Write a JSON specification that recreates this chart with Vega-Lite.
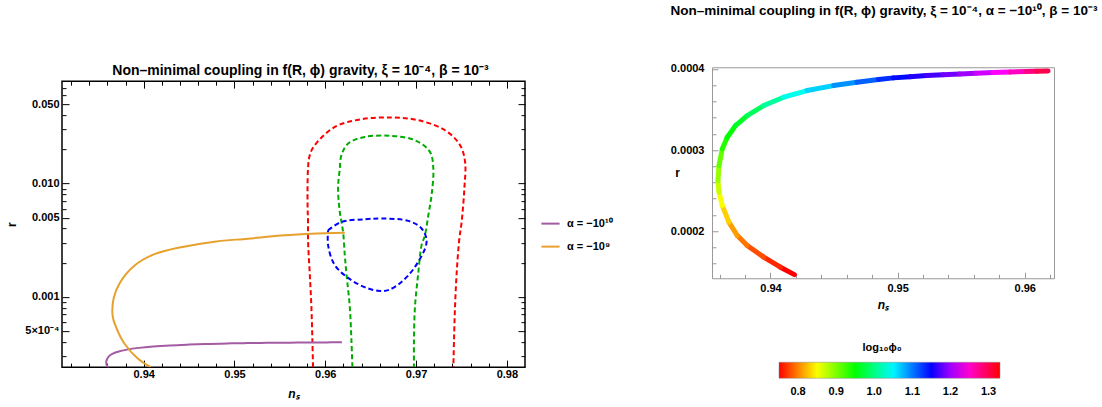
{
  "$schema": "https://vega.github.io/schema/vega-lite/v6.json",
  "background": "white",
  "padding": {"left": 5, "top": 3, "right": 5, "bottom": 3},
  "title": {"text": "Non–minimal coupling in f(R, ϕ) gravity,  ξ = 10⁻⁴, α = −10¹⁰, β = 10⁻³", "anchor": "end", "dx": 43, "offset": 45, "fontSize": 13.5},
  "config": {
    "font": "Liberation Sans",
    "title": {"font": "Liberation Sans", "fontSize": 14, "fontWeight": "bold", "color": "#000000"},
    "axis": {"grid": false, "domain": false, "labelFont": "Liberation Sans", "labelFontSize": 11, "labelFontWeight": "bold", "labelColor": "#000000", "titleFont": "Liberation Sans", "titleFontSize": 12, "titleFontWeight": "bold", "titleColor": "#000000", "tickColor": "#000000", "labelOverlap": false, "labelFlush": false, "labelBound": false},
    "legend": {"labelFont": "Liberation Sans", "labelFontSize": 11, "labelFontWeight": "bold", "labelColor": "#000000", "titleFont": "Liberation Sans", "titleFontSize": 11, "titleFontWeight": "bold", "titleColor": "#000000"}
  },
  "datasets": {
    "red": [
      {"i": 0, "ns": 0.95865, "r": 0.00024},
      {"i": 1, "ns": 0.95858, "r": 0.000415},
      {"i": 2, "ns": 0.95847, "r": 0.000816},
      {"i": 3, "ns": 0.95829, "r": 0.001607},
      {"i": 4, "ns": 0.9581, "r": 0.00316},
      {"i": 5, "ns": 0.9581, "r": 0.00458},
      {"i": 6, "ns": 0.95805, "r": 0.00644},
      {"i": 7, "ns": 0.9581, "r": 0.01355},
      {"i": 8, "ns": 0.95829, "r": 0.01778},
      {"i": 9, "ns": 0.95884, "r": 0.02178},
      {"i": 10, "ns": 0.96105, "r": 0.03155},
      {"i": 11, "ns": 0.96398, "r": 0.03689},
      {"i": 12, "ns": 0.9673, "r": 0.03821},
      {"i": 13, "ns": 0.97024, "r": 0.03614},
      {"i": 14, "ns": 0.97319, "r": 0.02951},
      {"i": 15, "ns": 0.97485, "r": 0.02178},
      {"i": 16, "ns": 0.9754, "r": 0.01549},
      {"i": 17, "ns": 0.97532, "r": 0.00903},
      {"i": 18, "ns": 0.97502, "r": 0.00458},
      {"i": 19, "ns": 0.97475, "r": 0.00316},
      {"i": 20, "ns": 0.97447, "r": 0.001607},
      {"i": 21, "ns": 0.97429, "r": 0.000816},
      {"i": 22, "ns": 0.97418, "r": 0.000415},
      {"i": 23, "ns": 0.97411, "r": 0.00024}
    ],
    "green": [
      {"i": 0, "ns": 0.96299, "r": 0.00024},
      {"i": 1, "ns": 0.96288, "r": 0.000415},
      {"i": 2, "ns": 0.9627, "r": 0.000816},
      {"i": 3, "ns": 0.96233, "r": 0.001607},
      {"i": 4, "ns": 0.96215, "r": 0.002333},
      {"i": 5, "ns": 0.96196, "r": 0.00374},
      {"i": 6, "ns": 0.9616, "r": 0.00562},
      {"i": 7, "ns": 0.96141, "r": 0.00903},
      {"i": 8, "ns": 0.9616, "r": 0.01355},
      {"i": 9, "ns": 0.96178, "r": 0.01778},
      {"i": 10, "ns": 0.96252, "r": 0.02254},
      {"i": 11, "ns": 0.96436, "r": 0.02576},
      {"i": 12, "ns": 0.9673, "r": 0.0263},
      {"i": 13, "ns": 0.96988, "r": 0.02408},
      {"i": 14, "ns": 0.97153, "r": 0.01901},
      {"i": 15, "ns": 0.9719, "r": 0.01355},
      {"i": 16, "ns": 0.97171, "r": 0.00788},
      {"i": 17, "ns": 0.97135, "r": 0.00525},
      {"i": 18, "ns": 0.97098, "r": 0.0035},
      {"i": 19, "ns": 0.97061, "r": 0.00286},
      {"i": 20, "ns": 0.97024, "r": 0.001607},
      {"i": 21, "ns": 0.96988, "r": 0.000816},
      {"i": 22, "ns": 0.96977, "r": 0.000415},
      {"i": 23, "ns": 0.96977, "r": 0.00024}
    ],
    "blue": [
      {"i": 0, "ns": 0.96031, "r": 0.00387},
      {"i": 1, "ns": 0.96178, "r": 0.00458},
      {"i": 2, "ns": 0.96436, "r": 0.00484},
      {"i": 3, "ns": 0.96619, "r": 0.00491},
      {"i": 4, "ns": 0.96914, "r": 0.00468},
      {"i": 5, "ns": 0.97061, "r": 0.00401},
      {"i": 6, "ns": 0.97116, "r": 0.00305},
      {"i": 7, "ns": 0.96988, "r": 0.00184},
      {"i": 8, "ns": 0.9684, "r": 0.001355},
      {"i": 9, "ns": 0.96693, "r": 0.001146},
      {"i": 10, "ns": 0.96602, "r": 0.001129},
      {"i": 11, "ns": 0.96472, "r": 0.001186},
      {"i": 12, "ns": 0.96288, "r": 0.001403},
      {"i": 13, "ns": 0.96105, "r": 0.001905},
      {"i": 14, "ns": 0.96031, "r": 0.00286},
      {"i": 15, "ns": 0.96031, "r": 0.00387}
    ],
    "a9": [
      {"i": 0, "ns": 0.94077, "r": 0.00024},
      {"i": 1, "ns": 0.93934, "r": 0.0002865},
      {"i": 2, "ns": 0.93787, "r": 0.000388},
      {"i": 3, "ns": 0.93694, "r": 0.000543},
      {"i": 4, "ns": 0.93658, "r": 0.000676},
      {"i": 5, "ns": 0.93669, "r": 0.000974},
      {"i": 6, "ns": 0.93735, "r": 0.001321},
      {"i": 7, "ns": 0.9389, "r": 0.001866},
      {"i": 8, "ns": 0.94118, "r": 0.002379},
      {"i": 9, "ns": 0.94412, "r": 0.002742},
      {"i": 10, "ns": 0.9478, "r": 0.00307},
      {"i": 11, "ns": 0.95148, "r": 0.00326},
      {"i": 12, "ns": 0.95515, "r": 0.00347},
      {"i": 13, "ns": 0.95847, "r": 0.00361},
      {"i": 14, "ns": 0.96215, "r": 0.00368}
    ],
    "a10": [
      {"ns": 0.94188, "r": 0.0001465, "phi": 0.75},
      {"ns": 0.94078, "r": 0.0001556, "phi": 0.765},
      {"ns": 0.93947, "r": 0.000168, "phi": 0.78},
      {"ns": 0.93817, "r": 0.0001823, "phi": 0.795},
      {"ns": 0.93739, "r": 0.0001946, "phi": 0.81},
      {"ns": 0.93673, "r": 0.0002111, "phi": 0.83},
      {"ns": 0.93621, "r": 0.0002315, "phi": 0.85},
      {"ns": 0.93595, "r": 0.0002481, "phi": 0.87},
      {"ns": 0.93587, "r": 0.0002624, "phi": 0.89},
      {"ns": 0.93595, "r": 0.0002808, "phi": 0.91},
      {"ns": 0.93621, "r": 0.0003014, "phi": 0.935},
      {"ns": 0.9366, "r": 0.0003158, "phi": 0.95},
      {"ns": 0.93725, "r": 0.0003301, "phi": 0.965},
      {"ns": 0.93817, "r": 0.0003425, "phi": 0.985},
      {"ns": 0.93947, "r": 0.0003548, "phi": 1.01},
      {"ns": 0.94104, "r": 0.0003651, "phi": 1.04},
      {"ns": 0.94288, "r": 0.0003733, "phi": 1.065},
      {"ns": 0.94496, "r": 0.0003794, "phi": 1.09},
      {"ns": 0.9468, "r": 0.0003836, "phi": 1.11},
      {"ns": 0.94849, "r": 0.0003868, "phi": 1.13},
      {"ns": 0.94967, "r": 0.0003889, "phi": 1.145},
      {"ns": 0.95098, "r": 0.0003904, "phi": 1.158},
      {"ns": 0.95229, "r": 0.0003917, "phi": 1.17},
      {"ns": 0.95357, "r": 0.0003929, "phi": 1.185},
      {"ns": 0.9549, "r": 0.0003938, "phi": 1.2},
      {"ns": 0.95616, "r": 0.0003947, "phi": 1.215},
      {"ns": 0.95751, "r": 0.0003954, "phi": 1.232},
      {"ns": 0.95882, "r": 0.0003961, "phi": 1.255},
      {"ns": 0.96013, "r": 0.0003967, "phi": 1.28},
      {"ns": 0.96094, "r": 0.0003972, "phi": 1.3},
      {"ns": 0.96183, "r": 0.0003975, "phi": 1.325}
    ]
  },
  "center": true,
  "spacing": 55,
  "resolve": {"scale": {"color": "independent"}, "legend": {"color": "independent"}},
  "hconcat": [
    {
      "width": 463,
      "height": 286,
      "view": {"stroke": "#000000", "strokeWidth": 1.5},
      "resolve": {"axis": {"x": "independent", "y": "independent"}},
      "layer": [
        {
          "data": {"name": "red"},
          "mark": {"type": "line", "color": "#ff0000", "strokeWidth": 2, "strokeDash": [5, 3], "interpolate": "catmull-rom", "clip": true},
          "encoding": {
            "x": {"field": "ns", "type": "quantitative", "scale": {"domain": [0.931, 0.982], "nice": false, "zero": false},
              "axis": {"orient": "bottom", "title": "nₛ", "titleFontStyle": "italic", "titlePadding": 6,
                "values": [0.932, 0.934, 0.936, 0.938, 0.94, 0.942, 0.944, 0.946, 0.948, 0.95, 0.952, 0.954, 0.956, 0.958, 0.96, 0.962, 0.964, 0.966, 0.968, 0.97, 0.972, 0.974, 0.976, 0.978, 0.98],
                "labelExpr": "abs(datum.value*100 - round(datum.value*100)) < 1e-6 ? format(datum.value, '.2f') : ''",
                "tickSize": {"condition": {"test": "abs(datum.value*100 - round(datum.value*100)) < 1e-6", "value": -7}, "value": -4},
                "labelPadding": 8}},
            "y": {"field": "r", "type": "quantitative", "scale": {"type": "log", "domain": [0.00024, 0.08], "nice": false},
              "axis": {"orient": "left", "title": "r", "titlePadding": 6,
                "values": [0.0003, 0.0004, 0.0005, 0.0006, 0.0007, 0.0008, 0.0009, 0.001, 0.002, 0.003, 0.004, 0.005, 0.006, 0.007, 0.008, 0.009, 0.01, 0.02, 0.03, 0.04, 0.05, 0.06, 0.07],
                "labelExpr": "datum.value == 0.05 ? '0.050' : datum.value == 0.01 ? '0.010' : datum.value == 0.005 ? '0.005' : datum.value == 0.001 ? '0.001' : datum.value == 0.0005 ? '5×10⁻⁴' : ''",
                "tickSize": {"condition": {"test": "indexof([0.0005, 0.001, 0.005, 0.01, 0.05], datum.value) >= 0", "value": -7}, "value": -4},
                "labelPadding": 10}},
            "order": {"field": "i", "type": "quantitative"}
          }
        },
        {
          "data": {"name": "green"},
          "mark": {"type": "line", "color": "#00aa00", "strokeWidth": 2, "strokeDash": [5, 3], "interpolate": "catmull-rom", "clip": true},
          "encoding": {
            "x": {"field": "ns", "type": "quantitative",
              "axis": {"orient": "top", "labels": false,
                "title": "Non–minimal coupling in f(R, ϕ) gravity, ξ = 10⁻⁴, β = 10⁻³",
                "titleFontSize": 14, "titleX": 238, "titleY": -11, "titleAlign": "center", "titleBaseline": "middle",
                "values": [0.932, 0.934, 0.936, 0.938, 0.94, 0.942, 0.944, 0.946, 0.948, 0.95, 0.952, 0.954, 0.956, 0.958, 0.96, 0.962, 0.964, 0.966, 0.968, 0.97, 0.972, 0.974, 0.976, 0.978, 0.98],
                "tickSize": {"condition": {"test": "abs(datum.value*100 - round(datum.value*100)) < 1e-6", "value": -7}, "value": -4}}},
            "y": {"field": "r", "type": "quantitative",
              "axis": {"orient": "right", "title": null, "labels": false,
                "values": [0.0003, 0.0004, 0.0005, 0.0006, 0.0007, 0.0008, 0.0009, 0.001, 0.002, 0.003, 0.004, 0.005, 0.006, 0.007, 0.008, 0.009, 0.01, 0.02, 0.03, 0.04, 0.05, 0.06, 0.07],
                "tickSize": {"condition": {"test": "indexof([0.0005, 0.001, 0.005, 0.01, 0.05], datum.value) >= 0", "value": -7}, "value": -4}}},
            "order": {"field": "i", "type": "quantitative"}
          }
        },
        {
          "data": {"name": "blue"},
          "mark": {"type": "line", "color": "#0000ff", "strokeWidth": 2, "strokeDash": [5, 3], "interpolate": "catmull-rom", "clip": true},
          "encoding": {
            "x": {"field": "ns", "type": "quantitative", "axis": null},
            "y": {"field": "r", "type": "quantitative", "axis": null},
            "order": {"field": "i", "type": "quantitative"}
          }
        },
        {
          "data": {"name": "a10"},
          "mark": {"type": "line", "strokeWidth": 2, "interpolate": "catmull-rom", "clip": true},
          "encoding": {
            "x": {"field": "ns", "type": "quantitative", "axis": null},
            "y": {"field": "r", "type": "quantitative", "axis": null},
            "order": {"field": "phi", "type": "quantitative"},
            "color": {"datum": "α = −10¹⁰", "type": "nominal",
              "scale": {"domain": ["α = −10¹⁰", "α = −10⁹"], "range": ["#a35ba3", "#e6a02c"]},
              "legend": {"title": null, "orient": "none", "legendX": 478, "legendY": 132, "symbolType": "stroke", "symbolSize": 330, "symbolStrokeWidth": 2, "labelOffset": 6, "rowPadding": 7, "padding": 0}}
          }
        },
        {
          "data": {"name": "a9"},
          "mark": {"type": "line", "strokeWidth": 2, "interpolate": "catmull-rom", "clip": true},
          "encoding": {
            "x": {"field": "ns", "type": "quantitative", "axis": null},
            "y": {"field": "r", "type": "quantitative", "axis": null},
            "order": {"field": "i", "type": "quantitative"},
            "color": {"datum": "α = −10⁹", "type": "nominal"}
          }
        }
      ]
    },
    {
      "width": 342,
      "height": 211,
      "view": {"stroke": "#999999", "strokeWidth": 1},
      "data": {"name": "a10"},
      "transform": [
        {"window": [{"op": "lead", "field": "ns", "as": "ns2"}, {"op": "lead", "field": "r", "as": "r2"}], "sort": [{"field": "phi", "order": "ascending"}], "frame": [null, null]},
        {"filter": "datum.ns2 != null"}
      ],
      "mark": {"type": "rule", "strokeWidth": 5, "strokeCap": "round"},
      "encoding": {
        "x": {"field": "ns", "type": "quantitative", "scale": {"domain": [0.9354, 0.9623], "nice": false, "zero": false},
          "axis": {"title": "nₛ", "titleFontStyle": "italic", "titlePadding": 4, "tickColor": "#999999",
            "values": [0.936, 0.938, 0.94, 0.942, 0.944, 0.946, 0.948, 0.95, 0.952, 0.954, 0.956, 0.958, 0.96, 0.962],
            "labelExpr": "abs(datum.value*100 - round(datum.value*100)) < 1e-6 ? format(datum.value, '.2f') : ''",
            "tickSize": {"condition": {"test": "abs(datum.value*100 - round(datum.value*100)) < 1e-6", "value": -6}, "value": -4},
            "labelPadding": 10}},
        "y": {"field": "r", "type": "quantitative", "scale": {"domain": [0.000142, 0.000402], "nice": false, "zero": false},
          "axis": {"title": "r", "titleAngle": 0, "titleX": -35, "titleY": 105, "titleAlign": "center", "titleBaseline": "middle", "tickColor": "#999999",
            "values": [0.00016, 0.00018, 0.0002, 0.00022, 0.00024, 0.00026, 0.00028, 0.0003, 0.00032, 0.00034, 0.00036, 0.00038, 0.0004],
            "labelExpr": "abs(datum.value*10000 - round(datum.value*10000)) < 1e-6 ? format(datum.value, '.4f') : ''",
            "tickSize": {"condition": {"test": "abs(datum.value*10000 - round(datum.value*10000)) < 1e-6", "value": -6}, "value": -4},
            "labelPadding": 14}},
        "x2": {"field": "ns2"},
        "y2": {"field": "r2"},
        "color": {"field": "phi", "type": "quantitative",
          "scale": {"domain": [0.75, 0.848, 0.95, 1.047, 1.148, 1.231, 1.33], "range": ["#ff0000", "#ffff00", "#00ff00", "#00ffff", "#0000ff", "#ff00ff", "#ff0000"], "interpolate": "rgb"},
          "legend": {"title": "log₁₀ϕ₀", "orient": "none", "legendX": 51, "legendY": 259, "direction": "horizontal", "gradientLength": 221, "gradientThickness": 16, "titleAnchor": "middle", "titlePadding": 9, "values": [0.8, 0.9, 1.0, 1.1, 1.2, 1.3], "format": ".1f", "labelOffset": 8, "gradientStrokeColor": "#888888", "gradientStrokeWidth": 0.5, "padding": 16}}
      }
    }
  ]
}
